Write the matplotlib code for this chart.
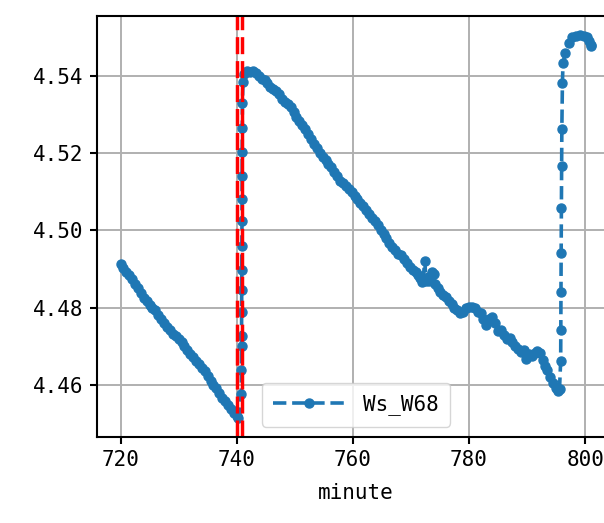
import matplotlib
matplotlib.use("Agg")
import matplotlib.pyplot as plt

plt.rcParams['font.family'] = ['DejaVu Sans Mono', 'DejaVu Sans']
plt.rcParams['font.size'] = 15

# minute readings before the first jump
x_drop = [720.0, 720.5, 721.0, 721.5, 722.0, 722.5, 723.0, 723.5, 724.0, 724.5,
          725.0, 725.5, 726.0, 726.5, 727.0, 727.5, 728.0, 728.5, 729.0, 729.5,
          730.0, 730.5, 731.0, 731.5, 732.0, 732.5, 733.0, 733.5, 734.0, 734.5,
          735.0, 735.5, 736.0, 736.5, 737.0, 737.5, 738.0, 738.5, 739.0, 739.5,
          740.0, 740.3]
y_drop = [4.4912, 4.4903, 4.4893, 4.4885, 4.4873, 4.4862, 4.4850, 4.4838, 4.4826, 4.4818,
          4.4808, 4.4800, 4.4793, 4.4780, 4.4770, 4.4760, 4.4750, 4.4741, 4.4733, 4.4727,
          4.4718, 4.4710, 4.4700, 4.4690, 4.4680, 4.4672, 4.4663, 4.4654, 4.4645, 4.4635,
          4.4622, 4.4611, 4.4600, 4.4592, 4.4580, 4.4566, 4.4558, 4.4548, 4.4538, 4.4528,
          4.4520, 4.4515]

# first jump
x_jump1 = [740.8, 740.82, 740.84, 740.85, 740.86, 740.87, 740.88, 740.89, 740.9,
           740.91, 740.92, 740.93, 740.95, 740.98]
y_jump1 = [4.4578, 4.4640, 4.4700, 4.4727, 4.4790, 4.4846, 4.4898, 4.4960, 4.5025,
           4.5080, 4.5141, 4.5204, 4.5266, 4.5330]

# long decline
x_fall = [741.1, 741.3, 741.8, 742.3, 742.8, 743.3, 743.8, 744.3, 744.8, 745.3,
          745.8, 746.3, 746.8, 747.3, 747.8, 748.3, 748.8, 749.3, 749.8, 750.3,
          750.8, 751.3, 751.8, 752.3, 752.8, 753.3, 753.8, 754.3, 754.8, 755.3,
          755.8, 756.3, 756.8, 757.3, 757.8, 758.3, 758.8, 759.3, 759.8, 760.3,
          760.8, 761.3, 761.8, 762.3, 762.8, 763.3, 763.8, 764.3, 764.8, 765.3,
          765.8, 766.3, 766.8, 767.3, 767.8, 768.3, 768.8, 769.3, 769.8, 770.3,
          770.8, 771.3, 771.6, 771.9, 772.1, 772.4, 772.6, 772.9, 773.2, 773.6,
          773.9, 774.2, 774.6, 775.0, 775.5, 776.0, 776.5, 777.0, 777.5, 778.0,
          778.5, 779.0, 779.5, 780.0, 780.5, 781.0, 781.5, 782.0, 782.5, 783.0,
          783.5, 784.0, 784.5, 785.0, 785.5, 786.0, 786.5, 787.0, 787.5, 788.0,
          788.5, 789.0, 789.5, 789.9, 790.3, 790.8, 791.3, 791.8, 792.2, 792.7,
          793.1, 793.5, 794.0, 794.5, 795.0, 795.4, 795.6]
y_fall = [4.5385, 4.5405, 4.5412, 4.5410, 4.5413, 4.5408, 4.5400, 4.5392, 4.5388, 4.5380,
          4.5372, 4.5366, 4.5360, 4.5352, 4.5340, 4.5333, 4.5327, 4.5318, 4.5305, 4.5293,
          4.5282, 4.5272, 4.5262, 4.5248, 4.5236, 4.5224, 4.5213, 4.5200, 4.5190, 4.5182,
          4.5172, 4.5163, 4.5152, 4.5140, 4.5128, 4.5122, 4.5115, 4.5108, 4.5100, 4.5090,
          4.5080, 4.5071, 4.5063, 4.5052, 4.5042, 4.5033, 4.5025, 4.5015, 4.5002, 4.4990,
          4.4980, 4.4968, 4.4958, 4.4950, 4.4940, 4.4935, 4.4925, 4.4916, 4.4905, 4.4898,
          4.4892, 4.4885, 4.4878, 4.4866, 4.4872, 4.4922, 4.4868, 4.4880, 4.4870, 4.4892,
          4.4888, 4.4862, 4.4852, 4.4840, 4.4832, 4.4828, 4.4818, 4.4810, 4.4800, 4.4795,
          4.4785, 4.4790, 4.4800, 4.4803, 4.4803, 4.4800, 4.4790, 4.4785, 4.4770, 4.4755,
          4.4770, 4.4776, 4.4760, 4.4740, 4.4742, 4.4730, 4.4720, 4.4722, 4.4712, 4.4700,
          4.4692, 4.4685, 4.4690, 4.4666, 4.4680, 4.4675, 4.4683, 4.4688, 4.4683, 4.4665,
          4.4650, 4.4638, 4.4620, 4.4605, 4.4592, 4.4584, 4.4590]

# second jump and plateau
x_jump2 = [795.8, 795.82, 795.85, 795.88, 795.92, 795.96, 796.0, 796.1, 796.2, 796.6,
           797.2, 797.8, 798.5, 799.2, 799.8, 800.3, 800.7, 801.0, 801.1]
y_jump2 = [4.4663, 4.4742, 4.4841, 4.4942, 4.5057, 4.5167, 4.5261, 4.5382, 4.5432, 4.5460,
           4.5485, 4.5500, 4.5503, 4.5505, 4.5503, 4.5500, 4.5490, 4.5480, 4.5477]

minutes = x_drop + x_jump1 + x_fall + x_jump2
ws_w68 = y_drop + y_jump1 + y_fall + y_jump2

event_lines = [740, 741]

fig = plt.figure(figsize=(6.04, 5.23), dpi=100)
ax = fig.add_axes([97 / 604, 1 - 437 / 523, (615 - 97) / 604, 421 / 523])

ax.plot(minutes, ws_w68, '--', marker='.', color='#1f77b4', lw=2.6,
        markersize=13, label='Ws_W68')
for v in event_lines:
    ax.axvline(v, color='red', lw=2.5, linestyle=(0, (4.9, 2.0)))

ax.grid(True, color='#b0b0b0', lw=1.4)
for s in ax.spines.values():
    s.set_linewidth(1.5)
ax.tick_params(length=4.7, width=1.5, pad=5)
ax.set_xticks([720, 740, 760, 780, 800])
ax.set_yticks([4.46, 4.48, 4.50, 4.52, 4.54])
ax.set_yticklabels(['4.46', '4.48', '4.50', '4.52', '4.54'])
ax.set_xlabel('minute', labelpad=9)

ax.legend(loc='lower center', handlelength=3.4, handletextpad=0.9,
          borderpad=0.55, fontsize=15)

fig.savefig('out.png', dpi=100)
